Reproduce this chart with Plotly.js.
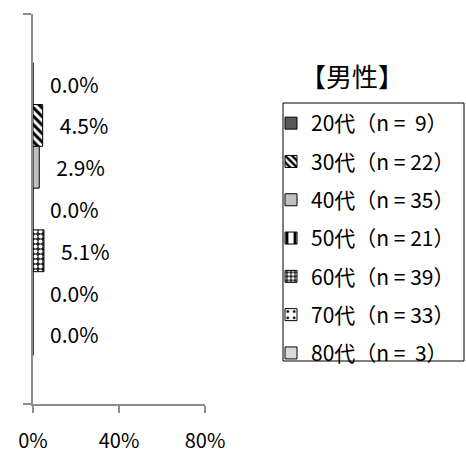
<!DOCTYPE html>
<html>
<head>
<meta charset="utf-8">
<script src="https://cdn.plot.ly/plotly-3.0.1.min.js"></script>
<style>html,body{margin:0;padding:0;background:#fff;}#chart{width:466px;height:453px;}</style>
</head>
<body>
<div id="chart"></div>
<script>
// Data
const ageGroups = ['20代', '30代', '40代', '50代', '60代', '70代', '80代'];
const sampleSizes = ['\u00a09', '22', '35', '21', '39', '33', '\u00a03'];
const values = [0.0, 4.5, 2.9, 0.0, 5.1, 0.0, 0.0];
const xTickVals = [0, 40, 80];
const xTickText = ['0%', '40%', '80%'];
const chartTitle = '【男性】';

// Styles per series
const styles = [
  {color: '#595959', pattern: {shape: ''}},
  {color: '#ffffff', pattern: {shape: '\\', fgcolor: '#000000', bgcolor: '#ffffff', size: 6, solidity: 0.5}},
  {color: '#c0c0c0', pattern: {shape: ''}},
  {color: '#ffffff', pattern: {shape: '|', fgcolor: '#000000', bgcolor: '#ffffff', size: 10, solidity: 0.35}},
  {color: '#ffffff', pattern: {shape: '.', fgcolor: '#ffffff', bgcolor: '#222222', size: 5, solidity: 0.5}},
  {color: '#ffffff', pattern: {shape: '.', fgcolor: '#000000', bgcolor: '#ffffff', size: 8, solidity: 0.15}},
  {color: '#d9d9d9', pattern: {shape: ''}}
];

const FONT = '"Noto Sans CJK JP", "Noto Sans", sans-serif';
const traces = ageGroups.map((g, i) => ({
  type: 'bar',
  orientation: 'h',
  name: g + '（n = ' + sampleSizes[i] + '）',
  x: [values[i]],
  y: [0],
  text: ['\u00a0\u00a0\u00a0' + values[i].toFixed(1) + '%'],
  textposition: 'outside',
  constraintext: 'none',
  cliponaxis: false,
  textfont: {family: FONT, size: 21, color: '#000'},
  marker: {color: styles[i].color, pattern: styles[i].pattern, line: {color: '#000', width: 1}},
  legendgroup: 'g' + i,
  hoverinfo: 'skip'
}));

const PL = 33, PW = 172, PT = 14, PH = 390;
const px = v => (v - PL) / PW;
const py = v => (PT + PH - v) / PH;

const layout = {
  width: 466, height: 453,
  margin: {l: 33, r: 261, t: 14, b: 49, autoexpand: false},
  paper_bgcolor: '#fff', plot_bgcolor: '#fff',
  barmode: 'group',
  bargap: 0.25,
  bargroupgap: 0,
  showlegend: true,
  font: {family: FONT, color: '#000'},
  title: {text: chartTitle, x: 352 / 466, xanchor: 'center', xref: 'container', y: 1 - 78 / 453, yanchor: 'middle', yref: 'container', font: {family: FONT, size: 26, color: '#000', weight: 'normal'}},
  xaxis: {
    range: [0, 80], tickvals: xTickVals, ticktext: xTickText,
    showgrid: false, zeroline: false, showline: true, linecolor: '#8c8c8c', linewidth: 2,
    ticks: 'outside', ticklen: 7, tickwidth: 2, tickcolor: '#8c8c8c',
    ticklabelstandoff: 11,
    tickfont: {family: FONT, size: 20, color: '#000'},
    fixedrange: true
  },
  yaxis: {
    type: 'linear', range: [0.5, -0.5], tickvals: [-0.5, 0.5], showticklabels: false,
    showgrid: false, zeroline: false, showline: true, linecolor: '#8c8c8c', linewidth: 2,
    ticks: 'outside', ticklen: 8, tickwidth: 2, tickcolor: '#8c8c8c',
    fixedrange: true
  },
  shapes: [{
    type: 'rect', xref: 'paper', yref: 'paper',
    x0: px(283), x1: px(464), y0: py(361), y1: py(103),
    line: {color: '#000', width: 1}, fillcolor: 'rgba(0,0,0,0)', layer: 'above'
  }],
  legend: {
    x: px(271), xanchor: 'left', y: py(103), yanchor: 'top',
    borderwidth: 0, bgcolor: 'rgba(0,0,0,0)',
    font: {family: FONT, size: 21, color: '#000'},
    traceorder: 'grouped', tracegroupgap: 8,
    itemwidth: 30
  }
};

Plotly.newPlot('chart', traces, layout, {displayModeBar: false, staticPlot: true});
</script>
</body>
</html>
